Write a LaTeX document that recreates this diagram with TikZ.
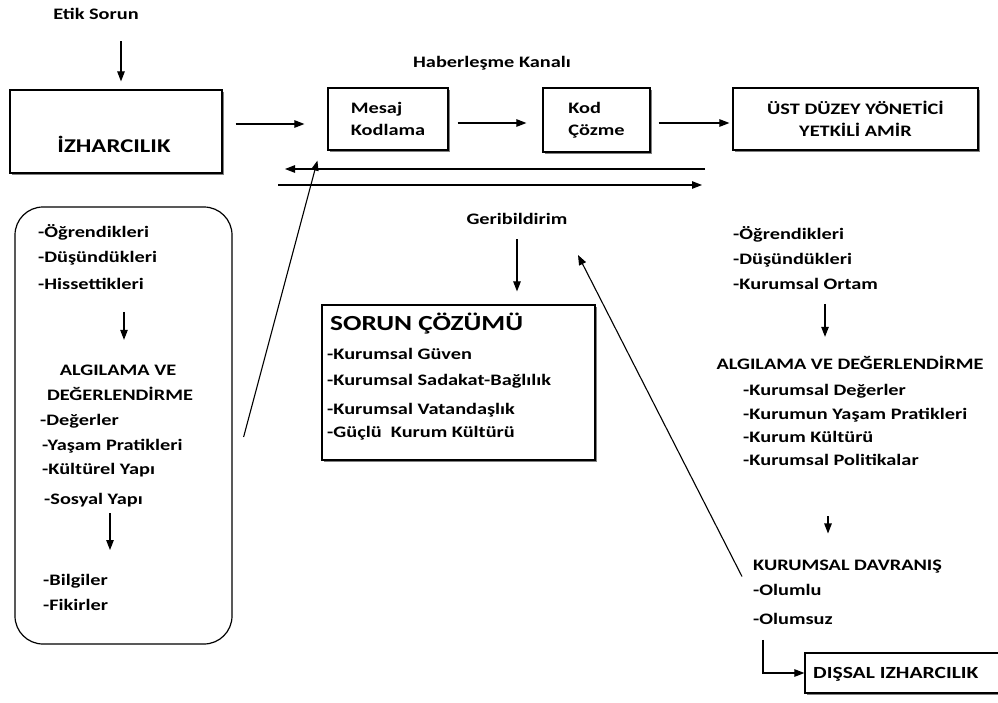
\documentclass[tikz,border=0pt]{standalone}
\usepackage{fontspec}
\setmainfont{Carlito}[FakeStretch=1.27]
\usetikzlibrary{arrows.meta,shadows,calc}
\begin{document}
\begin{tikzpicture}[x=1pt,y=-1pt,
  every node/.style={font=\bfseries\fontsize{16}{22}\selectfont, inner sep=0pt},
  txt/.style={anchor=mid west},
  ctxt/.style={anchor=mid},
  bigtxt/.style={font=\bfseries\fontsize{19.5}{24}\selectfont},
  box/.style={draw, line width=1.2pt, fill=white,
    drop shadow={shadow xshift=1.6pt, shadow yshift=-1.6pt, fill=black!50, opacity=1}},
  rbox/.style={draw, line width=1.2pt, rounded corners=28pt},
  arr/.style={-{Triangle[length=10pt,width=7.5pt]}, line width=1.1pt},
]
\useasboundingbox (0,0) rectangle (998,702);

% top left
\node[ctxt] (etik) at (96,17) {Etik Sorun};
\node[box, minimum width=212pt, minimum height=83pt] (izh) at (116,131.5) {};
\node[ctxt, bigtxt] (izhtxt) at (114,150) {İZHARCILIK};
\draw[arr] ($(izh.north)+(5,-48)$) -- ($(izh.north)+(5,-8)$);

% channel
\node[ctxt] (kanal) at (492,65) {Haberleşme Kanalı};
\node[box, minimum width=120pt, minimum height=62pt, align=left] (mesaj) at (388,119) {Mesaj\\Kodlama};
\node[box, minimum width=107pt, minimum height=64pt, align=left] (kod) at (596.5,120) {Kod\\Çözme};
\node[box, minimum width=245pt, minimum height=62pt, align=center] (ust) at (855.5,119) {ÜST DÜZEY YÖNETİCİ\\YETKİLİ AMİR};
\draw[arr] ($(izh.east)+(13,-7.5)$) -- ($(mesaj.west)+(-23,5)$);
\draw[arr] ($(mesaj.east)+(9,4)$) -- ($(kod.west)+(-16,3)$);
\draw[arr] ($(kod.east)+(8,3)$) -- ($(ust.west)+(-3,4)$);

\coordinate (fbR) at (705,169);
\coordinate (fbL) at (285,169);
\coordinate (fwL) at (278,185);
\coordinate (fwR) at (702,185);
\draw[arr] (fbR) -- (fbL);
\draw[arr] (fwL) -- (fwR);

% left rounded box
\node[rbox, minimum width=217pt, minimum height=437pt] (lbox) at (123.5,425.5) {};
\node[txt] (l1) at (38,235) {-Öğrendikleri};
\node[txt] (l2) at (38,260) {-Düşündükleri};
\node[txt] (l3) at (38,287) {-Hissettikleri};
\node[ctxt] (l4) at (118,373) {ALGILAMA VE};
\node[ctxt] (l5) at (120,398) {DEĞERLENDİRME};
\node[txt] (l6) at (40,423) {-Değerler};
\node[txt] (l7) at (42,448) {-Yaşam Pratikleri};
\node[txt] (l8) at (42,472) {-Kültürel Yapı};
\node[txt] (l9) at (44,502) {-Sosyal Yapı};
\node[txt] (l10) at (43,583) {-Bilgiler};
\node[txt] (l11) at (43,608) {-Fikirler};
\draw[arr] ($(l3.west)+(86,28)$) -- ($(l3.west)+(86,56)$);
\draw[arr] ($(l9.west)+(66,13)$) -- ($(l9.west)+(66,50)$);
\draw[arr] ($(lbox.east)+(11,11.5)$) -- ($(mesaj.south west)+(-10,10)$);

% middle
\node[ctxt] (geri) at (517,222) {Geribildirim};
\node[box, minimum width=273pt, minimum height=155pt] (sorun) at (458.5,382.5) {};
\node[txt, font=\bfseries\fontsize{21.5}{26}\selectfont] (s0) at (330,328) {SORUN ÇÖZÜMÜ};
\node[txt] (s1) at (327,357) {-Kurumsal Güven};
\node[txt] (s2) at (327,383) {-Kurumsal Sadakat-Bağlılık};
\node[txt] (s3) at (327,412) {-Kurumsal Vatandaşlık};
\node[txt] (s4) at (327,435) {-Güçlü\ \ Kurum Kültürü};
\draw[arr] ($(sorun.north)+(58.5,-65)$) -- ($(sorun.north)+(58.5,-13)$);

% right
\node[txt] (r1) at (733,237) {-Öğrendikleri};
\node[txt] (r2) at (733,262) {-Düşündükleri};
\node[txt] (r3) at (733,287) {-Kurumsal Ortam};
\node[ctxt] (ralg) at (850,367) {ALGILAMA VE DEĞERLENDİRME};
\node[txt] (r4) at (743,393) {-Kurumsal Değerler};
\node[txt] (r5) at (743,417) {-Kurumun Yaşam Pratikleri};
\node[txt] (r6) at (743,440) {-Kurum Kültürü};
\node[txt] (r7) at (743,463) {-Kurumsal Politikalar};
\node[txt] (kd) at (753,568) {KURUMSAL DAVRANIŞ};
\node[txt] (o1) at (753,593) {-Olumlu};
\node[txt] (o2) at (753,622) {-Olumsuz};
\node[box, minimum width=200pt, minimum height=40pt] (dis) at (905,673) {};
\node[txt, font=\bfseries\fontsize{17}{22}\selectfont] (distxt) at (813,676) {DIŞSAL IZHARCILIK};
\draw[arr] ($(r3.west)+(92,20)$) -- ($(r3.west)+(92,53)$);
\draw[arr] ($(kd.west)+(75,-50)$) -- ($(kd.west)+(75,-33)$);
\draw[arr] ($(o2.west)+(10,21)$) |- (dis.west);
\coordinate (fbtip) at (578,255);
\draw[arr] ($(kd.west)+(-11,10)$) -- (fbtip);
\end{tikzpicture}
\end{document}
